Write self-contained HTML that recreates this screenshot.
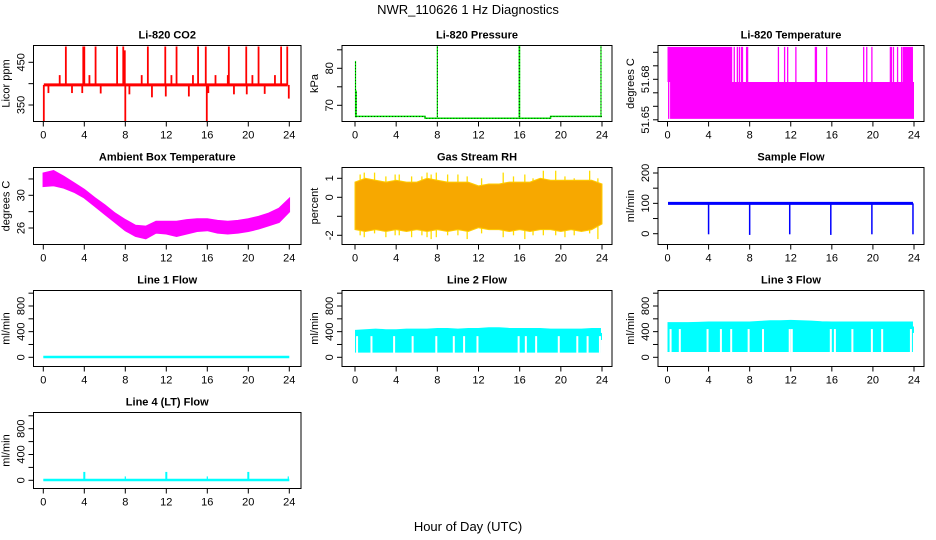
<!DOCTYPE html>
<html><head><meta charset="utf-8">
<style>
html,body{margin:0;padding:0;background:#fff;}
svg{display:block;font-family:"Liberation Sans",sans-serif;}
</style></head>
<body>
<svg id="chart" width="936" height="540" viewBox="0 0 936 540" xmlns="http://www.w3.org/2000/svg">
<text x="468" y="14" font-size="13" text-anchor="middle">NWR_110626  1 Hz Diagnostics</text>
<text x="468" y="531" font-size="13" text-anchor="middle">Hour of Day (UTC)</text>
</svg>
<script>
// ---------- data ----------
const xTicks=[0,4,8,12,16,20,24];
const hours=[0,1,2,3,4,5,6,7,8,9,10,11,12,13,14,15,16,17,18,19,20,21,22,23,24];
// CO2
const co2Base=397;
const co2SpikeHours=[0.05,0.5,1.6,2.2,2.8,3.8,3.9,4.0,4.5,5.1,5.6,7.2,7.8,7.95,8.0,8.4,9.6,10.2,10.6,11.9,11.95,12.5,13.0,14.2,14.6,15.1,15.85,15.95,16.1,16.8,18.0,18.1,18.6,19.8,19.85,20.4,21.0,21.6,22.6,23.2,23.8,23.95];
const co2SpikeVals=[312,378,420,487,378,378,487,487,420,487,377,487,487,478,312,375,420,487,368,487,370,420,487,370,420,487,487,310,378,420,420,487,375,487,375,420,487,376,420,487,487,365];
// Pressure
const presBaseHours=[0.1,6.8,6.81,19,19.01,24];
const presBaseVals=[67.0,67.0,66.5,66.5,67.0,67.0];
const presSpikeHours=[0.05,0.12,8.0,15.95,16.0,23.9];
const presSpikeVals=[82,74,86,86,86,86];
// Li-820 temperature
const tempLow=51.6507, tempMid=51.678, tempHigh=51.704;
const tempFullHigh=[[0.0,6.3],[22.9,23.9]];
const tempHighLines=[6.5,6.8,7.0,7.2,7.3,7.7,7.8,10.8,11.4,11.7,12.5,14.4,14.5,15.5,19.1,19.4,19.9,21.7,21.8,22.0,22.4,22.8];
// Ambient box temperature (hourly envelope)
const ambUpper=[32.7,33.0,32.3,31.5,30.7,29.7,28.8,27.8,27.0,26.3,26.2,26.8,26.8,26.8,27.0,27.1,27.1,26.9,26.8,26.9,27.1,27.4,27.8,28.4,29.6];
const ambLower=[31.1,31.2,30.9,30.4,29.7,28.7,27.7,26.7,25.7,25.0,24.7,25.4,25.3,25.0,25.3,25.6,25.7,25.4,25.3,25.4,25.6,25.9,26.3,26.7,28.0];
// Gas stream RH (hourly envelope)
const rhUpper=[0.8,1.0,0.9,0.8,0.9,0.8,0.8,1.0,0.9,0.8,0.8,0.8,0.6,0.7,0.7,0.8,0.8,0.8,1.0,0.9,0.9,0.9,0.9,0.9,0.7];
const rhLower=[-1.7,-1.8,-1.7,-1.8,-1.7,-1.8,-1.7,-1.8,-1.7,-1.8,-1.7,-1.8,-1.6,-1.7,-1.7,-1.8,-1.7,-1.8,-1.7,-1.7,-1.8,-1.7,-1.8,-1.7,-1.4];
const rhSpikeHours=[0.5,0.9,1.9,3.0,3.9,4.3,5.5,6.5,7.0,7.4,7.9,9.0,10.0,10.9,12.3,14.4,15.4,16.5,17.3,18.3,19.5,20.4,21.3,22.8,23.6];
const rhSpikeHi=[1.2,1.3,1.3,1.1,1.2,1.2,1.1,1.1,1.3,1.2,1.3,1.2,1.2,1.1,1.0,1.3,1.1,1.2,1.0,1.4,1.4,1.1,1.0,1.4,1.0];
const rhSpikeLo=[-2.0,-2.1,-1.9,-2.1,-2.0,-2.0,-2.1,-2.0,-2.1,-2.2,-2.1,-2.0,-2.0,-2.2,-1.9,-2.1,-2.0,-2.2,-2.0,-2.0,-2.0,-2.1,-2.0,-1.9,-2.2];
// Sample flow
const sampleBase=100;
const sampleDropHours=[4.0,8.0,11.9,15.9,19.9,23.9];
const sampleDropVals=[-2,-4,-2,-4,-2,-2];
// Line 1 flow
const line1Val=5;
// Line 2 flow
const line2Upper=[420,430,440,430,430,440,440,440,450,450,440,450,450,460,460,450,450,450,450,440,440,440,440,450,380];
const line2Lower=80;
const line2EndLow=270;
const line2Gaps=[0.2,1.6,3.8,5.6,7.9,9.6,10.6,11.9,15.9,16.6,17.6,19.8,21.6,22.6,23.8];
const line2GapTop=330;
// Line 3 flow
const line3Upper=[540,540,540,545,550,550,550,550,550,560,570,570,575,570,565,555,550,550,550,550,550,550,550,550,480];
const line3Lower=90;
const line3EndLow=380;
const line3Gaps=[0.3,1.2,3.9,5.2,6.2,7.9,9.3,11.9,12.1,15.9,16.3,18.0,19.9,20.9,23.7];
const line3GapTop=440;
// Line 4 flow
const line4Val=5;
const line4SpikeHours=[4.0,8.0,12.0,16.0,20.0,23.9];
const line4SpikeVals=[130,60,130,60,130,60];

// ---------- layout ----------
const NS="http://www.w3.org/2000/svg";
const svg=document.getElementById('chart');
const cols=[{x0:33.5,x1:301,a:43.3,b:289.3},{x0:342,x1:612,a:355,b:602},{x0:658,x1:924,a:667.5,b:914}];
const rows=[{y0:45.5,y1:121.5},{y0:167.5,y1:244.5},{y0:290.5,y1:366.5},{y0:412.5,y1:488.5}];
function mk(tag,attrs,parent){const e=document.createElementNS(NS,tag);for(const k in attrs)e.setAttribute(k,attrs[k]);(parent||svg).appendChild(e);return e;}

function panel(name,title,col,row,ylab,yTickVals,yTickLabels,v1,p1,v2,p2){
  const c=cols[col],r=rows[row];
  const g=mk('g',{});
  
  
  const xs=v=>c.a+(c.b-c.a)*v/24;
  const ys=v=>p1+(p2-p1)*(v-v1)/(v2-v1);
  const plot=mk('g',{},g);
  
  
  const t=mk('text',{x:(c.x0+c.x1)/2,y:r.y0-7,'font-size':11,'font-weight':'bold','text-anchor':'middle'},g);
  t.textContent=title;
  
  
  const box=mk('rect',{x:c.x0,y:r.y0,width:c.x1-c.x0,height:r.y1-r.y0,fill:'none',stroke:'#000','stroke-width':1},g);
  
  
  const xa=mk('g',{},g);
  
  
  mk('line',{x1:xs(xTicks[0]),x2:xs(xTicks[xTicks.length-1]),y1:r.y1,y2:r.y1,stroke:'#000'},xa);
  xTicks.forEach(v=>{
    mk('line',{x1:xs(v),x2:xs(v),y1:r.y1,y2:r.y1+5,stroke:'#000'},xa);
    const tl=mk('text',{x:xs(v),y:r.y1+17,'font-size':11,'text-anchor':'middle'},xa);
    tl.textContent=v;
    
    
  });
  const ya=mk('g',{},g);
  
  
  mk('line',{x1:c.x0,x2:c.x0,y1:ys(yTickVals[0]),y2:ys(yTickVals[yTickVals.length-1]),stroke:'#000'},ya);
  yTickVals.forEach((v,i)=>{
    mk('line',{x1:c.x0-5,x2:c.x0,y1:ys(v),y2:ys(v),stroke:'#000'},ya);
    if(yTickLabels[i]!==''){
      const tl=mk('text',{x:0,y:0,'font-size':11,'text-anchor':'middle',transform:`translate(${c.x0-9},${ys(v)}) rotate(-90)`},ya);
      tl.textContent=yTickLabels[i];
      
      
    }
  });
  const yl=mk('text',{x:0,y:0,'font-size':11,'text-anchor':'middle',transform:`translate(${c.x0-24},${(r.y0+r.y1)/2}) rotate(-90)`},g);
  yl.textContent=ylab;
  
  
  return {xs,ys,plot};
}

// CO2
(function(){
  const p=panel('co2','Li-820 CO2',0,0,'Licor ppm',[350,400,450],['350','','450'],450,62.3,350,105);
  co2SpikeHours.forEach((h,i)=>{
    const s=mk('line',{x1:p.xs(h),x2:p.xs(h),y1:p.ys(co2Base),y2:p.ys(co2SpikeVals[i]),stroke:'#ff0000','stroke-width':1.8},p.plot);
    
    
  });
  const b=mk('line',{x1:p.xs(0.05),x2:p.xs(23.85),y1:p.ys(co2Base),y2:p.ys(co2Base),stroke:'#ff0000','stroke-width':3},p.plot);
  
  
})();
// Pressure
(function(){
  const p=panel('pressure','Li-820 Pressure',1,0,'kPa',[70,75,80,85],['70','','80',''],80,68.3,70,105.3);
  const pts=presBaseHours.map((h,i)=>p.xs(h)+','+p.ys(presBaseVals[i])).join(' ');
  const l=mk('polyline',{points:pts,fill:'none',stroke:'#00ee00','stroke-width':1.5},p.plot);
  
  
  mk('polyline',{points:pts,fill:'none',stroke:'#000','stroke-width':0.8,'stroke-dasharray':'1,2'},p.plot);
  presSpikeHours.forEach((h,i)=>{
    const s=mk('line',{x1:p.xs(h),x2:p.xs(h),y1:p.ys(66.8),y2:p.ys(presSpikeVals[i]),stroke:'#00ee00','stroke-width':1.2},p.plot);
    
    
    mk('line',{x1:p.xs(h),x2:p.xs(h),y1:p.ys(66.8),y2:p.ys(presSpikeVals[i]),stroke:'#000','stroke-width':0.8,'stroke-dasharray':'1,2'},p.plot);
  });
})();
// Li-820 Temperature
(function(){
  const p=panel('li820-temp','Li-820 Temperature',2,0,'degrees C',[51.65,51.66,51.67,51.68,51.69,51.70],['51.65','','','51.68','',''],51.68,79.3,51.65,119.8);
  const f=mk('rect',{x:p.xs(0.25),y:p.ys(tempMid),width:p.xs(24)-p.xs(0.25),height:p.ys(tempLow)-p.ys(tempMid),fill:'#ff00ff'},p.plot);
  
  
  mk('rect',{x:p.xs(0.05),y:p.ys(tempHigh),width:p.xs(0.18)-p.xs(0.05),height:p.ys(tempLow)-p.ys(tempHigh),fill:'#ff00ff'},p.plot);
  tempFullHigh.forEach(r=>{
    const e=mk('rect',{x:p.xs(r[0]),y:p.ys(tempHigh),width:p.xs(r[1])-p.xs(r[0]),height:p.ys(tempMid)-p.ys(tempHigh),fill:'#ff00ff'},p.plot);
    
    
  });
  tempHighLines.forEach(h=>{
    const e=mk('line',{x1:p.xs(h),x2:p.xs(h),y1:p.ys(tempHigh),y2:p.ys(tempMid),stroke:'#ff00ff','stroke-width':1.3},p.plot);
    
    
  });
})();
// Ambient
(function(){
  const p=panel('ambient','Ambient Box Temperature',0,1,'degrees C',[26,28,30,32],['26','','30',''],30,195.3,26,228);
  const up=hours.map((h,i)=>p.xs(h)+','+p.ys(ambUpper[i]));
  const lo=hours.map((h,i)=>p.xs(h)+','+p.ys(ambLower[i])).reverse();
  const e=mk('polygon',{points:up.concat(lo).join(' '),fill:'#ff00ff',stroke:'#ff00ff','stroke-width':1.5},p.plot);
  
  
})();
// RH
(function(){
  const p=panel('rh','Gas Stream RH',1,1,'percent',[-2,-1,0,1],['-2','','0','1'],1,178.3,-2,235.3);
  rhSpikeHours.forEach((h,i)=>{
    const s=mk('line',{x1:p.xs(h),x2:p.xs(h),y1:p.ys(rhSpikeHi[i]),y2:p.ys(rhSpikeLo[i]),stroke:'#ffdd00','stroke-width':1.3},p.plot);
    
    
  });
  const up=hours.map((h,i)=>p.xs(h)+','+p.ys(rhUpper[i]));
  const lo=hours.map((h,i)=>p.xs(h)+','+p.ys(rhLower[i])).reverse();
  const e=mk('polygon',{points:up.concat(lo).join(' '),fill:'#f7a800',stroke:'#ffcc00','stroke-width':1},p.plot);
  
  
})();
// Sample flow
(function(){
  const p=panel('sample-flow','Sample Flow',2,1,'ml/min',[0,50,100,150,200],['0','','100','','200'],200,173,0,233.7);
  const b=mk('line',{x1:p.xs(0.05),x2:p.xs(23.9),y1:p.ys(sampleBase),y2:p.ys(sampleBase),stroke:'#0000ff','stroke-width':3},p.plot);
  
  
  sampleDropHours.forEach((h,i)=>{
    const s=mk('line',{x1:p.xs(h),x2:p.xs(h),y1:p.ys(sampleBase),y2:p.ys(sampleDropVals[i]),stroke:'#0000ff','stroke-width':1.5},p.plot);
    
    
  });
})();
const flowTicks=[0,200,400,600,800,1000], flowLabels=['0','','400','','800',''];
// Line 1
(function(){
  const p=panel('line1-flow','Line 1 Flow',0,2,'ml/min',flowTicks,flowLabels,800,306,0,357.3);
  const b=mk('line',{x1:p.xs(0),x2:p.xs(24),y1:p.ys(line1Val),y2:p.ys(line1Val),stroke:'#00ffff','stroke-width':2.5},p.plot);
  
  
})();
function bandFlow(p,upper,lower,endLow,gaps,gapTop,name){
  const up=hours.slice(0,24).map((h,i)=>p.xs(h===0?0.05:h)+','+p.ys(upper[i]));
  up.push(p.xs(23.85)+','+p.ys(upper[23]));
  const pts=up.concat([p.xs(23.85)+','+p.ys(lower),p.xs(0.05)+','+p.ys(lower)]);
  const e=mk('polygon',{points:pts.join(' '),fill:'#00ffff',stroke:'#00ffff'},p.plot);
  
  
  const t=mk('rect',{x:p.xs(23.85),y:p.ys(upper[24]),width:p.xs(24)-p.xs(23.85),height:p.ys(endLow)-p.ys(upper[24]),fill:'#00ffff'},p.plot);
  
  
  gaps.forEach(h=>{
    const g=mk('line',{x1:p.xs(h),x2:p.xs(h),y1:p.ys(lower)+1,y2:p.ys(gapTop),stroke:'#fff','stroke-width':2},p.plot);
    
    
  });
}
(function(){
  const p=panel('line2-flow','Line 2 Flow',1,2,'ml/min',flowTicks,flowLabels,800,306,0,357.3);
  bandFlow(p,line2Upper,line2Lower,line2EndLow,line2Gaps,line2GapTop,'line2-flow');
})();
(function(){
  const p=panel('line3-flow','Line 3 Flow',2,2,'ml/min',flowTicks,flowLabels,800,306,0,357.3);
  bandFlow(p,line3Upper,line3Lower,line3EndLow,line3Gaps,line3GapTop,'line3-flow');
})();
// Line 4
(function(){
  const p=panel('line4-flow','Line 4 (LT) Flow',0,3,'ml/min',flowTicks,flowLabels,800,428.7,0,480.3);
  const b=mk('line',{x1:p.xs(0),x2:p.xs(24),y1:p.ys(line4Val),y2:p.ys(line4Val),stroke:'#00ffff','stroke-width':2.5},p.plot);
  
  
  line4SpikeHours.forEach((h,i)=>{
    const s=mk('line',{x1:p.xs(h),x2:p.xs(h),y1:p.ys(line4Val),y2:p.ys(line4SpikeVals[i]),stroke:'#00ffff','stroke-width':i%2===0?2:1.2},p.plot);
    
    
  });
})();
</script>
</body></html>
